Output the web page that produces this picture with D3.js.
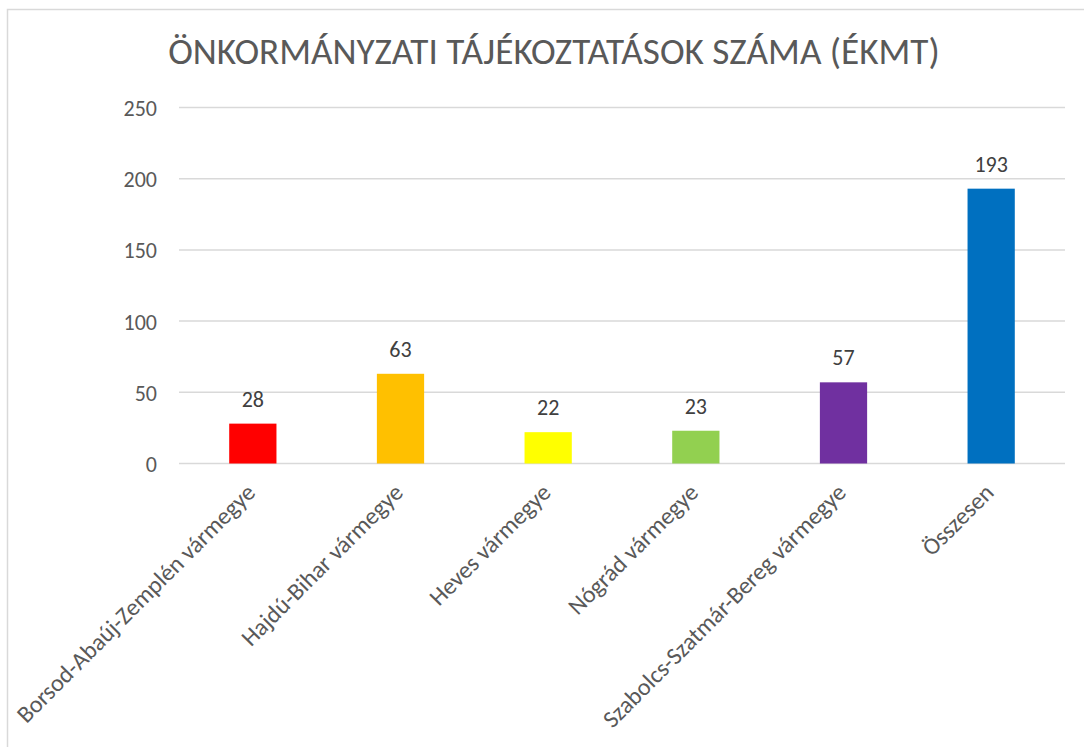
<!DOCTYPE html>
<html>
<head>
<meta charset="utf-8">
<script src="https://cdn.jsdelivr.net/npm/d3@7"></script>
<style>
html,body{margin:0;padding:0;background:#fff;}
svg{display:block;}
text{font-family:Calibri, Carlito, Lato, sans-serif;}
</style>
</head>
<body>
<svg id="chart" width="1084" height="747"></svg>
<script>
const title = "ÖNKORMÁNYZATI TÁJÉKOZTATÁSOK SZÁMA (ÉKMT)";
const categories = ["Borsod-Abaúj-Zemplén vármegye","Hajdú-Bihar vármegye","Heves vármegye","Nógrád vármegye","Szabolcs-Szatmár-Bereg vármegye","Összesen"];
const values = [28, 63, 22, 23, 57, 193];
const colors = ["#FF0000","#FFC000","#FFFF00","#92D050","#7030A0","#0070C0"];
const yTicks = [0, 50, 100, 150, 200, 250];

const svg = d3.select("#chart");

// outer chart border (cropped frame)
svg.append("rect").attr("x",7.5).attr("y",9.5).attr("width",1200).attr("height",900)
  .attr("fill","none").attr("stroke","#d9d9d9").attr("stroke-width",1.5);

const x = d3.scaleBand().domain(categories).range([179, 1065]).paddingInner(0.68).paddingOuter(0.34);
const y = d3.scaleLinear().domain([0, 250]).range([463.5, 107.5]);

// gridlines
svg.append("g").selectAll("line").data(yTicks).join("line")
  .attr("x1",179).attr("x2",1065)
  .attr("y1",d=>y(d)).attr("y2",d=>y(d))
  .attr("stroke","#d9d9d9").attr("stroke-width",1.5);

// y axis labels
const yAxis = d3.axisLeft(y).tickValues(yTicks).tickSize(0).tickPadding(0);
const yg = svg.append("g").attr("transform","translate(157,0)").call(yAxis);
yg.select(".domain").remove();
yg.selectAll("text").attr("font-size",22).attr("fill","#595959")
  .style("font-family","Calibri, Carlito, Lato, sans-serif").attr("dy","0.36em");

// bars
svg.append("g").selectAll("rect").data(values).join("rect")
  .attr("x",(d,i)=>x(categories[i]))
  .attr("y",d=>y(d))
  .attr("width",x.bandwidth())
  .attr("height",d=>y(0)-y(d))
  .attr("fill",(d,i)=>colors[i]);

// data labels
svg.append("g").selectAll("text").data(values).join("text")
  .attr("x",(d,i)=>x(categories[i])+x.bandwidth()/2)
  .attr("y",d=>y(d)-17)
  .attr("text-anchor","middle")
  .attr("font-size",22).attr("fill","#404040")
  .text(d=>d);

// category labels
const cat = svg.append("g").selectAll("text").data(categories).join("text")
  .attr("transform",d=>`translate(${x(d)+x.bandwidth()/2+4},494) rotate(-45)`)
  .attr("text-anchor","end")
  .attr("font-size",21).attr("fill","#595959")
  .text(d=>d);
// fit category font size so the first label matches the reference length
const firstLen = cat.nodes()[0].getComputedTextLength();
const catSize = 21 * 326 / firstLen;
cat.attr("font-size", catSize);

// title
const t = svg.append("text").attr("x",554).attr("y",63.5).attr("text-anchor","middle")
  .attr("font-size",30).attr("fill","#595959").text(title);
const tl = t.node().getComputedTextLength();
t.attr("font-size", 30 * 772 / tl);
</script>
</body>
</html>
